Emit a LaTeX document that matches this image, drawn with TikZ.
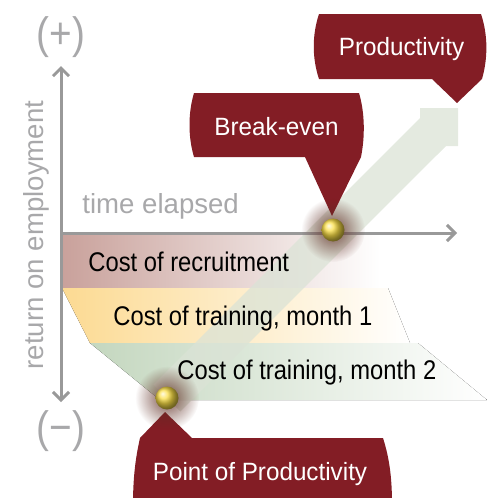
\documentclass[tikz,border=0pt]{standalone}
\usepackage{fontspec}
\setmainfont{Liberation Sans}
\newfontfamily\narrowfont{Liberation Sans}[FakeStretch=0.88]
\newfontfamily\calloutfont{Liberation Sans}[FakeStretch=0.97]
\usetikzlibrary{arrows.meta, positioning, fadings}

\definecolor{axisgray}{RGB}{153,153,153}
\definecolor{labelgray}{RGB}{168,168,170}
\definecolor{wine}{RGB}{131,29,37}
\definecolor{rosecost}{RGB}{201,161,155}
\definecolor{rosemid}{RGB}{224,200,196}
\definecolor{yellowcost}{RGB}{252,218,146}
\definecolor{yellowmid}{RGB}{253,232,186}
\definecolor{greencost}{RGB}{196,215,191}
\definecolor{greenmid}{RGB}{214,227,210}
\definecolor{arrowgreen}{RGB}{219,227,214}
\definecolor{gold}{RGB}{250,222,70}
\definecolor{halo}{RGB}{95,45,35}

\tikzfading[name=halo fade, inner color=transparent!15, outer color=transparent!100]

\begin{document}
\begin{tikzpicture}[x=0.5pt, y=-0.5pt,
    axis/.style={draw=axisgray, line width=1.5pt, -{Straight Barb[length=4pt, width=8pt]}},
    graylabel/.style={text=labelgray, font=\fontsize{13.8}{16}\selectfont, inner sep=0pt},
    signlabel/.style={text=labelgray, font=\narrowfont\fontsize{22}{26}\selectfont, inner sep=0pt},
    costlabel/.style={font=\narrowfont\fontsize{13.5}{16}\selectfont, anchor=base west, inner sep=0pt},
    callouttext/.style={text=white, font=\calloutfont\fontsize{12.5}{15}\selectfont, anchor=base, inner sep=0pt},
    goldball/.style={circle, minimum size=11.5pt, inner sep=0pt, shading=ball, ball color=gold}]

    \useasboundingbox (0,0) rectangle (487,498);
    \clip (0,0) rectangle (487,498);

    % Cost bands
    \fill[left color=rosecost, middle color=rosemid, right color=white]
        (62,235) rectangle (380,288);
    \fill[left color=yellowcost, middle color=yellowmid, right color=white]
        (62,288) -- (388,288) -- (410,343) -- (90,343) -- cycle;
    \fill[left color=greencost, middle color=greenmid, right color=white]
        (90,343) -- (418,343) -- (487,400) -- (160,400) -- cycle;

    % Rising arrow
    \fill[arrowgreen, opacity=0.75]
        (153.6,384.6) -- (420,118) -- (420,108) -- (458,108) -- (458,146)
        -- (446,146) -- (180.4,411.4) -- cycle;

    % Axes
    \coordinate (origin) at (61,233);
    \coordinate (ytop) at (61,66);
    \coordinate (ybot) at (61,402);
    \coordinate (xend) at (457,233);
    \draw[axis] (origin) -- (ytop);
    \draw[axis] (origin) -- (ybot);
    \draw[axis] (origin) -- (xend);

    % Axis labels
    \node[signlabel, above=4pt of ytop] (plus) {(+)};
    \node[signlabel, below=4pt of ybot] (minus) {(−)};
    \node[graylabel, anchor=base west] (time) at (82,213) {time elapsed};
    \node[graylabel, rotate=90, anchor=base] (return) at (43,235) {return on employment};

    % Cost labels
    \node[costlabel] (recruit) at (88,271) {Cost of recruitment};
    \node[costlabel] (month1) at (113,325) {Cost of training, month 1};
    \node[costlabel] (month2) at (177,379) {Cost of training, month 2};

    % Callouts
    \fill[wine] (319,14) -- (481,14) .. controls (488,35) and (488,58) .. (482,79)
        -- (457,103) -- (432,79) -- (319,79) .. controls (312,58) and (312,35) .. cycle;
    \fill[wine] (194,93) -- (359,93) .. controls (365,113) and (365,137) .. (361,157)
        -- (332,216) -- (305,157) -- (194,157) .. controls (188,137) and (188,113) .. cycle;
    \fill[wine] (140,438) -- (165,412) -- (192,438) -- (383,438)
        .. controls (390,460) and (392,480) .. (392,505) -- (133,505)
        .. controls (133,480) and (135,460) .. cycle;
    \node[callouttext] (prod) at (401.5,55) {Productivity};
    \node[callouttext] (even) at (276.5,135) {Break-even};
    \node[callouttext] (point) at (260,480) {Point of Productivity};

    % Balls
    \coordinate (breakeven) at (333,230);
    \coordinate (productive) at (167,398);
    \fill[halo, path fading=halo fade] (breakeven) circle (16pt);
    \fill[halo, path fading=halo fade] (productive) circle (16pt);
    \node[goldball] (ballbe) at (breakeven) {};
    \node[goldball] (ballpp) at (productive) {};
\end{tikzpicture}
\end{document}
